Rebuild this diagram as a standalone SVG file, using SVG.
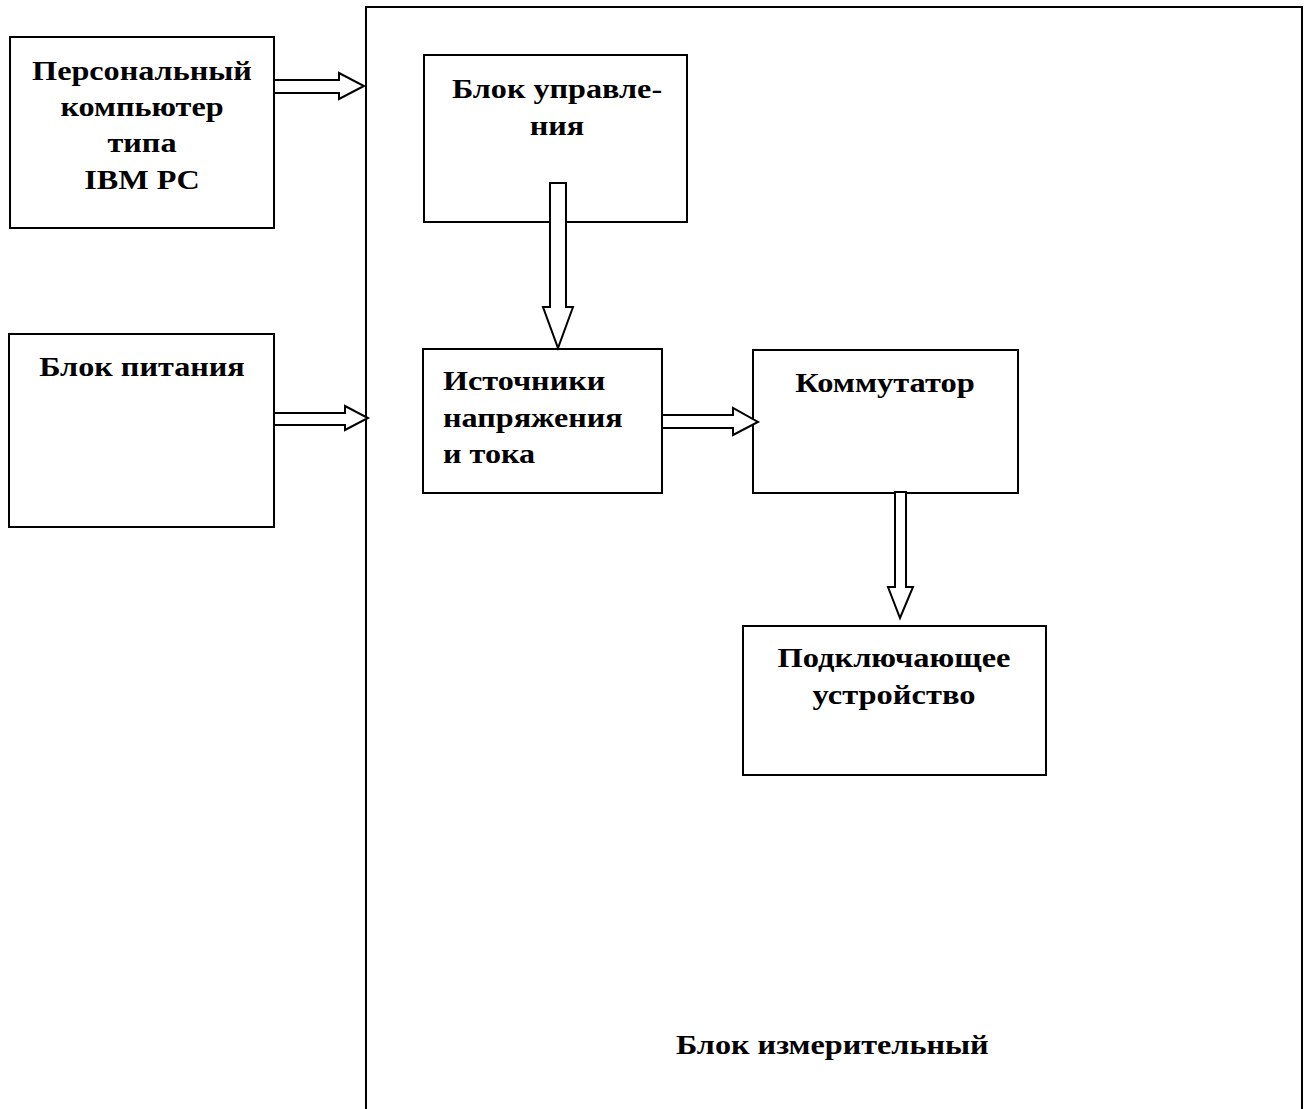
<svg xmlns="http://www.w3.org/2000/svg" width="1311" height="1109" viewBox="0 0 1311 1109">
<style>
.box{fill:#fff;stroke:#000;stroke-width:2}
.arr{fill:#fff;stroke:#000;stroke-width:2;stroke-linejoin:miter}
text{font-family:"Liberation Serif","Times New Roman",serif;font-weight:bold;font-size:28px;fill:#000}
.c{text-anchor:middle}
</style>
<rect width="1311" height="1109" fill="#fff"/>
<g id="measure-block">
<path d="M366,1109 V7 H1302 V1109" fill="none" stroke="#000" stroke-width="2"/>
<text transform="translate(676,1054) scale(1.15,1)">Блок измерительный</text>
</g>
<g id="pc">
<rect class="box" x="10" y="37" width="264" height="191"/>
<text class="c" transform="translate(142,80) scale(1.15,1)">Персональный</text>
<text class="c" transform="translate(142,116) scale(1.15,1)">компьютер</text>
<text class="c" transform="translate(142,152) scale(1.15,1)">типа</text>
<text class="c" transform="translate(142,189) scale(1.15,1)">IBM PC</text>
</g>
<g id="power">
<rect class="box" x="9" y="334" width="265" height="193"/>
<text class="c" transform="translate(142,376) scale(1.15,1)">Блок питания</text>
</g>
<g id="control">
<rect class="box" x="424" y="55" width="263" height="167"/>
<text class="c" transform="translate(557,98) scale(1.15,1)">Блок управле-</text>
<text class="c" transform="translate(557,135) scale(1.15,1)">ния</text>
</g>
<g id="sources">
<rect class="box" x="423" y="349" width="239" height="144"/>
<text transform="translate(443,390) scale(1.15,1)">Источники</text>
<text transform="translate(443,427) scale(1.15,1)">напряжения</text>
<text transform="translate(443,463) scale(1.15,1)">и тока</text>
</g>
<g id="switch">
<rect class="box" x="753" y="350" width="265" height="143"/>
<text class="c" transform="translate(885,392) scale(1.16,1)">Коммутатор</text>
</g>
<g id="connector">
<rect class="box" x="743" y="626" width="303" height="149"/>
<text class="c" transform="translate(894,667) scale(1.16,1)">Подключающее</text>
<text class="c" transform="translate(894,704) scale(1.16,1)">устройство</text>
</g>
<g id="connectors">
<polygon class="arr" points="274,80 339,80 339,73 364,86 339,99 339,93 274,93"/>
<polygon class="arr" points="274,413 345,413 345,406 368,418 345,430 345,425 274,425"/>
<polygon class="arr" points="550,183 566,183 566,307 573,307 558,348 543,307 550,307"/>
<polygon class="arr" points="662,415 733,415 733,408 758,422 733,435 733,428 662,428"/>
<polygon class="arr" points="895,492 906,492 906,587 913,587 900,618 888,587 895,587"/>
</g>
</svg>
